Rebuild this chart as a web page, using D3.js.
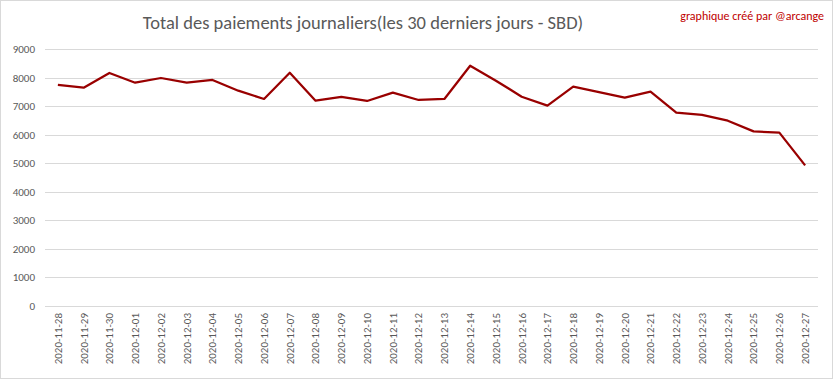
<!DOCTYPE html>
<html><head><meta charset="utf-8">
<script src="https://cdn.jsdelivr.net/npm/d3@7"></script>
<style>body{margin:0;background:#fff}svg{display:block}</style>
</head><body>
<script>
const dates = ["2020-11-28","2020-11-29","2020-11-30","2020-12-01","2020-12-02","2020-12-03","2020-12-04","2020-12-05","2020-12-06","2020-12-07","2020-12-08","2020-12-09","2020-12-10","2020-12-11","2020-12-12","2020-12-13","2020-12-14","2020-12-15","2020-12-16","2020-12-17","2020-12-18","2020-12-19","2020-12-20","2020-12-21","2020-12-22","2020-12-23","2020-12-24","2020-12-25","2020-12-26","2020-12-27"];
const payments = [7740,7645,8160,7820,7985,7820,7915,7540,7250,8170,7190,7320,7180,7470,7215,7250,8415,7890,7330,7015,7680,7490,7295,7505,6770,6690,6490,6115,6070,4925];
const yTicks = [0,1000,2000,3000,4000,5000,6000,7000,8000,9000];
const titleText = "Total des paiements journaliers(les 30 derniers jours - SBD)";
const creditText = "graphique créé par @arcange";

const W = 833, H = 379;
const m = {left:45, right:15, top:49, bottom:73};
const svg = d3.select("body").append("svg").attr("width", W).attr("height", H);
svg.append("rect").attr("x",0.5).attr("y",0.5).attr("width",W-1).attr("height",H-1)
  .attr("fill","#fff").attr("stroke","#d9d9d9");

const x = d3.scaleBand().domain(dates).range([m.left, W - m.right]);
const y = d3.scaleLinear().domain([0, 9000]).range([H - m.bottom, m.top]);

const font = "Carlito, Calibri, 'Open Sans', sans-serif";

// grid
svg.append("g").selectAll("line").data(yTicks).join("line")
  .attr("x1", m.left).attr("x2", W - m.right)
  .attr("y1", d => Math.round(y(d)) + 0.5).attr("y2", d => Math.round(y(d)) + 0.5)
  .attr("stroke", "#d9d9d9").attr("stroke-width", 1);

// y axis labels
const yAxis = d3.axisLeft(y).tickValues(yTicks).tickFormat(d3.format("d")).tickSize(0).tickPadding(10);
const gy = svg.append("g").attr("transform", `translate(${m.left},0)`).call(yAxis);
gy.select(".domain").remove();
gy.selectAll("text").attr("font-family", font).attr("font-size", 11).attr("fill", "#595959");

// x axis labels
const xAxis = d3.axisBottom(x).tickSize(0).tickPadding(0);
const gx = svg.append("g").attr("transform", `translate(0,${H - m.bottom})`).call(xAxis);
gx.select(".domain").remove();
gx.selectAll("text")
  .attr("font-family", font).attr("font-size", 11).attr("fill", "#595959")
  .attr("transform", "rotate(-90)")
  .attr("text-anchor", "end")
  .attr("x", -7).attr("y", 0).attr("dy", "0.35em");

// line
const line = d3.line().x((d, i) => x(dates[i]) + x.bandwidth() / 2).y(d => y(d));
svg.append("path").datum(payments).attr("d", line)
  .attr("fill", "none").attr("stroke", "#990000").attr("stroke-width", 2.25)
  .attr("stroke-linejoin", "round");

// title
svg.append("text").attr("x", 363).attr("y", 29).attr("text-anchor", "middle")
  .attr("font-family", font).attr("font-size", 18.5).attr("fill", "#595959").text(titleText);
svg.append("text").attr("x", 824).attr("y", 20).attr("text-anchor", "end")
  .attr("font-family", font).attr("font-size", 12).attr("fill", "#c00000").text(creditText);
</script>
</body></html>
